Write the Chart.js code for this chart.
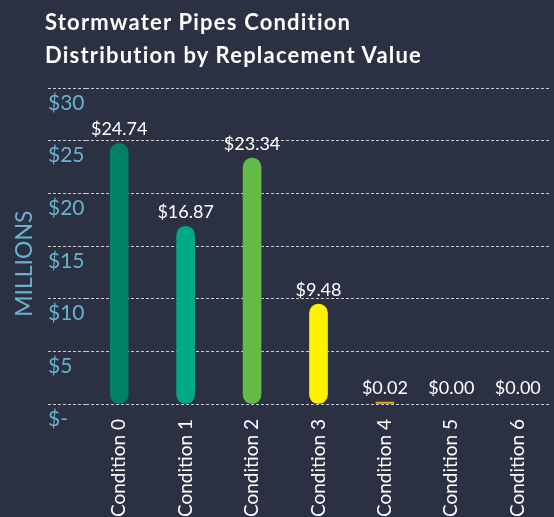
<!DOCTYPE html>
<html>
<head>
<meta charset="utf-8">
<script src="https://cdn.jsdelivr.net/npm/chart.js@4"></script>
<style>
  body { margin: 0; background: #2b3043; }
  #wrap { position: relative; width: 554px; height: 517px; }
  #title {
    position: absolute; left: 45px; top: 5px;
    font: bold 22px Lato, sans-serif; letter-spacing: 1.2px; line-height: 33px; color: #ffffff;
  }
</style>
</head>
<body>
<div id="wrap">
  <canvas id="chartPipes" width="554" height="517"></canvas>
  <div id="title">Stormwater Pipes Condition<br>Distribution by Replacement Value</div>
</div>
<script>
const conditions = ["Condition 0", "Condition 1", "Condition 2", "Condition 3", "Condition 4", "Condition 5", "Condition 6"];
const valuesMillions = [24.74, 16.87, 23.34, 9.48, 0.02, 0.00, 0.00];
const barColors = ["#008163", "#00a986", "#64bb46", "#fff200", "#f2a81d", "transparent", "transparent"];
const yTicks = [0, 5, 10, 15, 20, 25, 30];

const tickBlue = "#6ab2cc";
const gridColor = "rgba(255,255,255,0.75)";

Chart.defaults.font.family = "Lato";

// draws the $ value above each bar
const valueLabels = {
  id: "valueLabels",
  afterDatasetsDraw(chart) {
    const ctx = chart.ctx;
    const meta = chart.getDatasetMeta(0);
    ctx.save();
    ctx.font = "18px Lato";
    ctx.fillStyle = "#ffffff";
    ctx.textAlign = "center";
    ctx.textBaseline = "bottom";
    meta.data.forEach((bar, i) => {
      ctx.fillText("$" + valuesMillions[i].toFixed(2), bar.x, bar.y - 5);
    });
    ctx.restore();
  },
};

const ctx = document.getElementById("chartPipes").getContext("2d");
const myChart = new Chart(ctx, {
  type: "bar",
  data: {
    labels: conditions,
    datasets: [
      {
        label: "Replacement Value",
        data: valuesMillions,
        backgroundColor: barColors,
        barThickness: 18,
        borderRadius: 9,
        borderSkipped: false,
        minBarLength: 2,
      },
    ],
  },
  options: {
    responsive: false,
    animation: false,
    layout: { padding: { top: 88, right: 3, left: 0, bottom: 0 } },
    plugins: {
      legend: { display: false },
      tooltip: { enabled: false },
    },
    scales: {
      x: {
        grid: { display: false },
        border: { display: false },
        ticks: {
          color: "#ffffff",
          font: { size: 19 },
          minRotation: 90,
          maxRotation: 90,
          padding: 7,
        },
        afterFit: (scale) => { scale.height = 113; },
      },
      y: {
        min: 0,
        max: 30,
        afterBuildTicks: (scale) => { scale.ticks = yTicks.map((v) => ({ value: v })); },
        ticks: {
          mirror: true,
          padding: -38,
          labelOffset: 15,
          color: tickBlue,
          font: { size: 21 },
          callback: (v) => (v === 0 ? "$-" : "$" + v),
        },
        grid: {
          color: gridColor,
          drawTicks: true,
          tickLength: 38,
          tickColor: gridColor,
          tickBorderDash: [3, 2],
        },
        border: { display: false, dash: [3, 2] },
        title: {
          display: true,
          // trailing spaces push the rotated word down to where the original sits
          text: "MILLIONS      ",
          color: tickBlue,
          font: { size: 23 },
          padding: { top: 11, bottom: 0 },
        },
        afterFit: (scale) => { scale.width = 86; },
      },
    },
  },
  plugins: [valueLabels],
});
</script>
</body>
</html>
